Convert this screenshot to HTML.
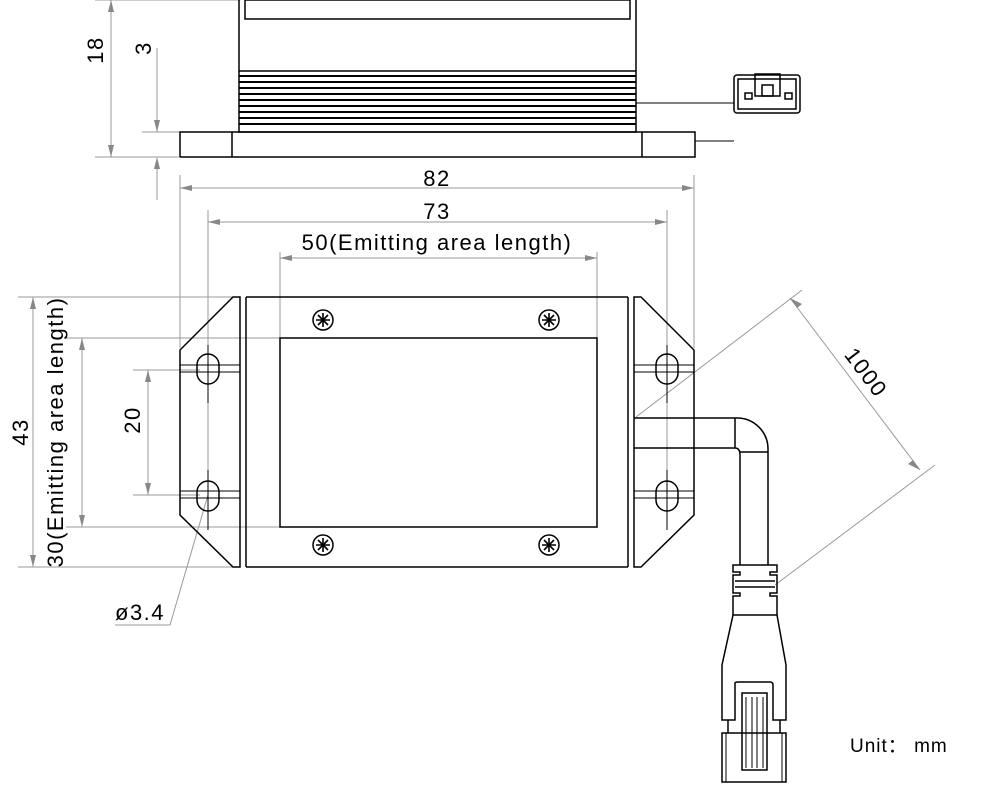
<!DOCTYPE html>
<html><head><style>html,body{margin:0;padding:0;background:#fff}svg{display:block}</style></head>
<body>
<svg width="1000" height="785" viewBox="0 0 1000 785" xmlns="http://www.w3.org/2000/svg" font-family="Liberation Sans, sans-serif">
<g fill="none" stroke="#999" stroke-width="1">
<line x1="111" y1="0" x2="111" y2="157"/><line x1="95" y1="157" x2="180" y2="157"/>
<line x1="157" y1="48" x2="157" y2="132"/><line x1="157" y1="160" x2="157" y2="200"/>
<line x1="142" y1="132" x2="240" y2="132"/><line x1="95" y1="0" x2="240" y2="0"/>
<line x1="180" y1="175" x2="180" y2="348"/><line x1="694" y1="175" x2="694" y2="348"/>
<line x1="180" y1="188" x2="694" y2="188"/>
<line x1="208" y1="210" x2="208" y2="520"/><line x1="667" y1="210" x2="667" y2="520"/>
<line x1="208" y1="222" x2="667" y2="222"/>
<line x1="280" y1="252" x2="280" y2="338"/><line x1="597" y1="252" x2="597" y2="338"/>
<line x1="280" y1="258" x2="597" y2="258"/>
<line x1="18" y1="297" x2="233" y2="297"/><line x1="18" y1="567" x2="233" y2="567"/>
<line x1="33" y1="297" x2="33" y2="567"/>
<line x1="66" y1="338" x2="280" y2="338"/><line x1="66" y1="527" x2="280" y2="527"/>
<line x1="82" y1="338" x2="82" y2="527"/>
<line x1="133" y1="370" x2="200" y2="370"/><line x1="133" y1="495" x2="200" y2="495"/>
<line x1="148" y1="370" x2="148" y2="495"/>
<polyline points="208,495 170,625 115,625"/>
<line x1="636" y1="417" x2="802" y2="290"/><line x1="775" y1="585" x2="935" y2="465"/>
<line x1="790" y1="298" x2="920" y2="470"/>
</g>
<g fill="#888">
<polygon points="111,0 108,12 114,12"/><polygon points="111,157 108,145 114,145"/>
<polygon points="157,132 154,120 160,120"/><polygon points="157,157 154,169 160,169"/>
<polygon points="180,188 192,185 192,191"/><polygon points="694,188 682,185 682,191"/>
<polygon points="208,222 220,219 220,225"/><polygon points="667,222 655,219 655,225"/>
<polygon points="280,258 292,255 292,261"/><polygon points="597,258 585,255 585,261"/>
<polygon points="33,297 30,309 36,309"/><polygon points="33,567 30,555 36,555"/>
<polygon points="82,338 79,350 85,350"/><polygon points="82,527 79,515 85,515"/>
<polygon points="148,370 145,382 151,382"/><polygon points="148,495 145,483 151,483"/>
<polygon points="790,298 797,308 802,304"/><polygon points="920,470 913,460 908,464"/>
</g>
<g fill="none" stroke="#000" stroke-width="1.5">
<rect x="239" y="-2" width="397" height="134"/>
<rect x="245" y="0" width="385" height="19"/>
<line x1="239" y1="71" x2="636" y2="71"/>
<g stroke-width="2"><line x1="239" y1="76" x2="636" y2="76"/><line x1="239" y1="82" x2="636" y2="82"/><line x1="239" y1="88" x2="636" y2="88"/><line x1="239" y1="94" x2="636" y2="94"/><line x1="239" y1="100" x2="636" y2="100"/><line x1="239" y1="106" x2="636" y2="106"/><line x1="239" y1="112" x2="636" y2="112"/><line x1="239" y1="118" x2="636" y2="118"/><line x1="239" y1="124" x2="636" y2="124"/></g>
<polyline points="180,157 180,132 695,132 695,157 180,157"/>
<line x1="232" y1="132" x2="232" y2="157"/><line x1="642" y1="132" x2="642" y2="157"/>
<line x1="636" y1="103" x2="734" y2="103" stroke-width="1"/><line x1="695" y1="141" x2="734" y2="141" stroke-width="1"/>
<rect x="734" y="75" width="66" height="38" rx="3"/><rect x="738" y="79" width="58" height="30"/>
<rect x="755" y="74" width="25" height="22"/><rect x="762" y="85" width="11" height="11"/>
<rect x="745" y="93" width="7" height="6"/><rect x="785" y="93" width="7" height="6"/>
<line x1="246" y1="297" x2="628" y2="297"/><line x1="246" y1="567" x2="628" y2="567"/>
<polygon points="233,297 240,297 240,567 233,567 180,515 180,350"/>
<line x1="246" y1="297" x2="246" y2="567"/>
<polygon points="641,297 634,297 634,567 641,567 694,515 694,350"/>
<line x1="628" y1="297" x2="628" y2="567"/>
<rect x="280" y="338" width="317" height="189"/>
<g stroke-width="1">
<line x1="180" y1="365" x2="240" y2="365"/><line x1="180" y1="372" x2="240" y2="372"/>
<line x1="180" y1="491" x2="240" y2="491"/><line x1="180" y1="498" x2="240" y2="498"/>
<line x1="634" y1="365" x2="694" y2="365"/><line x1="634" y1="372" x2="694" y2="372"/>
<line x1="634" y1="491" x2="694" y2="491"/><line x1="634" y1="498" x2="694" y2="498"/>
</g>
<rect x="197" y="354" width="22" height="30" rx="11"/><rect x="197" y="481" width="22" height="30" rx="11"/>
<rect x="656" y="354" width="22" height="30" rx="11"/><rect x="656" y="481" width="22" height="30" rx="11"/>
<circle cx="323" cy="320" r="10"/><circle cx="549" cy="320" r="10"/><circle cx="323" cy="545" r="10"/><circle cx="549" cy="545" r="10"/>
<path d="M634 418 H737 A31 31 0 0 1 768 449 V565"/>
<path d="M634 448 H735 Q740 448 740 455 V565"/>
<line x1="735" y1="418" x2="735" y2="448"/><line x1="740" y1="452" x2="768" y2="452"/>
<path d="M733 565 H777 V572 H770 V575 H777 V593 H770 V596 H777 V615 H733 V596 H740 V593 H733 V575 H740 V572 H733 Z"/>
<line x1="735" y1="581" x2="775" y2="581"/><line x1="735" y1="587" x2="775" y2="587"/>
<path d="M733 615 L722 665 V720 H735 V683 Q735 682 738 682 H770 Q773 682 773 685 V720 H786 V665 L777 615"/>
<rect x="722" y="733" width="64" height="49"/>
<line x1="728" y1="720" x2="728" y2="733"/><line x1="780" y1="720" x2="780" y2="733"/>
<rect x="742" y="693" width="25" height="77"/>
</g>
<g stroke="#000" stroke-width="1" fill="none">
<line x1="746" y1="697" x2="746" y2="768"/><line x1="752" y1="697" x2="752" y2="768"/><line x1="757" y1="697" x2="757" y2="768"/><line x1="763" y1="697" x2="763" y2="768"/>
<line x1="726" y1="733" x2="726" y2="782"/><line x1="782" y1="733" x2="782" y2="782"/>
<g stroke-width="1.6"><path d="M318 315 L328 325 M328 315 L318 325 M323 313 V327 M316 320 H330"/><path d="M544 315 L554 325 M554 315 L544 325 M549 313 V327 M542 320 H556"/><path d="M318 540 L328 550 M328 540 L318 550 M323 538 V552 M316 545 H330"/><path d="M544 540 L554 550 M554 540 L544 550 M549 538 V552 M542 545 H556"/></g>
<line x1="208" y1="345" x2="208" y2="403"/><line x1="208" y1="470" x2="208" y2="530"/>
<line x1="667" y1="345" x2="667" y2="403"/><line x1="667" y1="470" x2="667" y2="530"/>
</g>
<g fill="#000" font-size="22" letter-spacing="1.5">
<text x="437" y="186" text-anchor="middle">82</text>
<text x="437" y="219" text-anchor="middle">73</text>
<text x="437" y="250" text-anchor="middle">50(Emitting area length)</text>
<text transform="translate(103,50) rotate(-90)" text-anchor="middle">18</text>
<text transform="translate(151,48) rotate(-90)" text-anchor="middle">3</text>
<text transform="translate(28,432) rotate(-90)" text-anchor="middle">43</text>
<text transform="translate(63,432) rotate(-90)" text-anchor="middle">30(Emitting area length)</text>
<text transform="translate(140,420) rotate(-90)" text-anchor="middle">20</text>
<text x="115" y="620">ø3.4</text>
<text transform="translate(860,377) rotate(53)" text-anchor="middle">1000</text>
<text x="850" y="752" font-size="19" letter-spacing="1">Unit：  mm</text>
</g>
</svg>
</body></html>
